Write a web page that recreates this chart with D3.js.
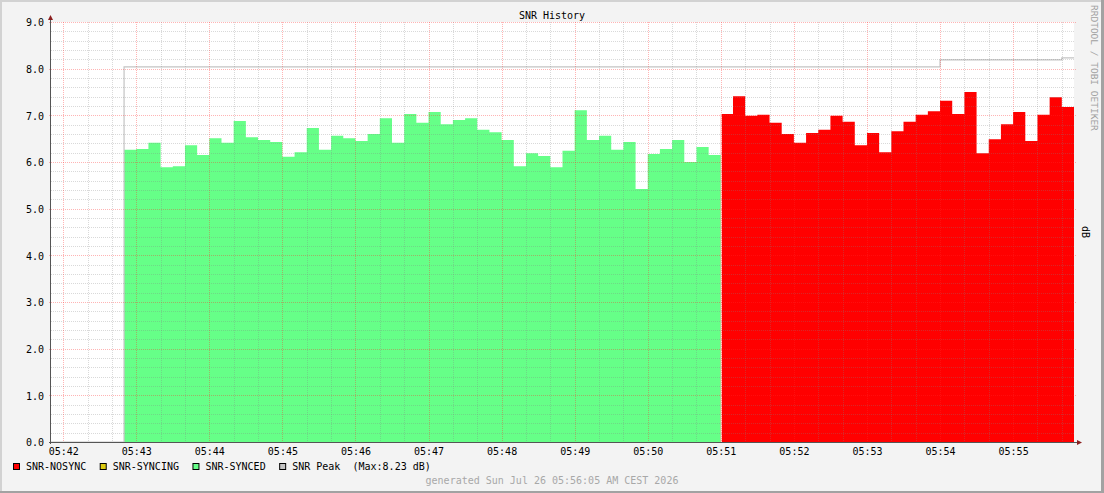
<!DOCTYPE html>
<html>
<head>
<meta charset="utf-8">
<script src="https://cdn.jsdelivr.net/npm/d3@7"></script>
<style>
  body { margin: 0; background: #f3f3f3; }
  text { font-family: "DejaVu Sans Mono", monospace; font-size: 10px; }
</style>
</head>
<body>
<div id="my_snr"></div>
<script>

// ======================= //
// DATA
// ======================= //

var chartTitle = "SNR History"
var unitLabel = "dB"
var footerText = "generated Sun Jul 26 05:56:05 AM CEST 2026"
var watermarkText = "RRDTOOL / TOBI OETIKER"

// time window of the graph and the rrd step
var xDomain = ["05:41:50", "05:55:50"]
var stepSeconds = 10

// SNR samples (dB), one per step
var syncedStart = "05:42:50"
var syncedValues = [6.26, 6.28, 6.41, 5.89, 5.91, 6.36, 6.15, 6.51, 6.41, 6.88,
                    6.53, 6.47, 6.43, 6.11, 6.21, 6.73, 6.26, 6.56, 6.51, 6.45,
                    6.60, 6.94, 6.41, 7.03, 6.84, 7.07, 6.81, 6.90, 6.94, 6.69,
                    6.64, 6.47, 5.91, 6.19, 6.13, 5.89, 6.24, 7.11, 6.47, 6.56,
                    6.26, 6.43, 5.42, 6.17, 6.28, 6.47, 6.00, 6.32, 6.15]
var nosyncStart = "05:51:00"
var nosyncValues = [7.03, 7.41, 6.99, 7.01, 6.84, 6.60, 6.41, 6.62, 6.69, 6.99,
                    6.86, 6.36, 6.62, 6.21, 6.66, 6.86, 7.01, 7.09, 7.31, 7.03,
                    7.50, 6.19, 6.49, 6.81, 7.07, 6.45, 7.01, 7.39, 7.18]

// peak SNR, value holds from each time on
var peakTimes = ["05:41:50", "05:42:50", "05:54:00", "05:55:40"]
var peakValues = [0, 8.04, 8.19, 8.23]
var peakMax = "(Max:8.23 dB)"

// ticks
var yTicks = [0, 1, 2, 3, 4, 5, 6, 7, 8, 9]
var xTickMinutes = ["05:42", "05:43", "05:44", "05:45", "05:46", "05:47", "05:48",
                    "05:49", "05:50", "05:51", "05:52", "05:53", "05:54", "05:55"]

// legend
var legendNames = ["SNR-NOSYNC", "SNR-SYNCING", "SNR-SYNCED", "SNR Peak"]

// colours
var colNosync = "#ff0000", colSyncing = "#dccb10", colSynced = "#66ff88", colPeak = "#c4c4c4"
var legendColors = [colNosync, colSyncing, colSynced, colPeak]
var colMinor = "rgba(128,128,128,0.3)", colMajor = "rgba(255,40,40,0.35)"


// ======================= //
// SVG AREAS
// ======================= //

var W = 1104, H = 493
var margin = {top: 22, right: 30, bottom: 51, left: 51},
    width = W - margin.left - margin.right,
    height = H - margin.top - margin.bottom;

var root = d3.select("#my_snr")
  .append("svg")
    .attr("width", W)
    .attr("height", H)
    .style("display", "block")

// background with 3d shade
root.append("rect").attr("width", W).attr("height", H).attr("fill", "#f3f3f3")
root.append("rect").attr("x", 0).attr("y", 0).attr("width", W).attr("height", 2).attr("fill", "#d2d2d2")
root.append("rect").attr("x", 0).attr("y", 0).attr("width", 2).attr("height", H).attr("fill", "#d2d2d2")
root.append("rect").attr("x", 0).attr("y", H - 2).attr("width", W).attr("height", 2).attr("fill", "#a2a2a2")
root.append("rect").attr("x", W - 3).attr("y", 0).attr("width", 3).attr("height", H).attr("fill", "#a2a2a2")

var svg = root.append("g")
    .attr("transform", "translate(" + margin.left + "," + margin.top + ")");

svg.append("rect")
  .attr("width", width)
  .attr("height", height)
  .attr("fill", "#ffffff")


// ======================= //
// SCALES
// ======================= //

// everything in UTC so no local time zone quirks move the grid
var parseT = d3.utcParse("%H:%M:%S")
var parseM = d3.utcParse("%H:%M")

var x = d3.scaleUtc()
  .domain(xDomain.map(parseT))
  .range([0, width])

var y = d3.scaleLinear()
  .domain([0, 9])
  .range([height, 0])

// turn a start time + values into step points (last one closes the step)
function stepSeries(start, values){
  var t0 = parseT(start)
  var pts = values.map(function(v, i){ return {t: d3.utcSecond.offset(t0, i * stepSeconds), v: v} })
  pts.push({t: d3.utcSecond.offset(t0, values.length * stepSeconds), v: values[values.length - 1]})
  return pts
}


// ======================= //
// AREAS AND PEAK LINE
// ======================= //

var area = d3.area()
  .curve(d3.curveStepAfter)
  .x(function(d){ return x(d.t) })
  .y0(y(0))
  .y1(function(d){ return y(d.v) })

svg.append("path")
  .datum(stepSeries(syncedStart, syncedValues))
  .attr("d", area)
  .attr("fill", colSynced)

svg.append("path")
  .datum(stepSeries(nosyncStart, nosyncValues))
  .attr("d", area)
  .attr("fill", colNosync)

// thin seam where the state changes
svg.append("line")
  .attr("x1", x(parseT(nosyncStart)) + 0.5).attr("x2", x(parseT(nosyncStart)) + 0.5)
  .attr("y1", y(nosyncValues[0])).attr("y2", height)
  .attr("stroke", "#ffffff").attr("stroke-width", 1)

var peakData = peakTimes.map(function(t, i){ return {t: parseT(t), v: peakValues[i]} })
peakData.push({t: parseT(xDomain[1]), v: peakValues[peakValues.length - 1]})

svg.append("path")
  .datum(peakData)
  .attr("d", d3.line().curve(d3.curveStepAfter)
    .x(function(d){ return x(d.t) })
    .y(function(d){ return y(d.v) }))
  .attr("fill", "none")
  .attr("stroke", colPeak)
  .attr("stroke-width", 1.2)


// ======================= //
// GRID (drawn over the data)
// ======================= //

var t0 = x.domain()[0], t1 = x.domain()[1]
var minorX = d3.utcSecond.every(20).range(t0, t1).filter(function(d){ return d.getUTCSeconds() != 0 })
var majorX = xTickMinutes.map(parseM)
var minorY = d3.range(1, 45).filter(function(i){ return i % 5 != 0 }).map(function(i){ return i / 5 })

function px(v){ return Math.round(v) + 0.5 }

var grid = svg.append("g")
  .style("shape-rendering", "crispEdges")
  .style("stroke-dasharray", "1,1")

grid.selectAll("minorV").data(minorX).enter().append("line")
  .attr("x1", function(d){ return px(x(d)) }).attr("x2", function(d){ return px(x(d)) })
  .attr("y1", 0).attr("y2", height)
  .attr("stroke", colMinor)

grid.selectAll("minorH").data(minorY).enter().append("line")
  .attr("x1", 0).attr("x2", width)
  .attr("y1", function(d){ return px(y(d)) }).attr("y2", function(d){ return px(y(d)) })
  .attr("stroke", colMinor)

grid.selectAll("majorV").data(majorX).enter().append("line")
  .attr("x1", function(d){ return px(x(d)) }).attr("x2", function(d){ return px(x(d)) })
  .attr("y1", 0).attr("y2", height + 2)
  .attr("stroke", colMajor)

grid.selectAll("majorH").data(yTicks.slice(1)).enter().append("line")
  .attr("x1", -2).attr("x2", width + 2)
  .attr("y1", function(d){ return px(y(d)) }).attr("y2", function(d){ return px(y(d)) })
  .attr("stroke", colMajor)


// ======================= //
// AXES
// ======================= //

var xAxis = svg.append("g")
  .attr("transform", "translate(0," + height + ")")
  .call(d3.axisBottom(x).tickValues(majorX).tickFormat(d3.utcFormat("%H:%M")).tickSize(0).tickPadding(6))
xAxis.select(".domain").remove()
xAxis.selectAll("text").style("font-family", "DejaVu Sans Mono").style("font-size", "10px").attr("fill", "#000")

var yAxis = svg.append("g")
  .call(d3.axisLeft(y).tickValues(yTicks).tickFormat(d3.format(".1f")).tickSize(0).tickPadding(7))
yAxis.select(".domain").remove()
yAxis.selectAll("text").style("font-family", "DejaVu Sans Mono").style("font-size", "10px").attr("fill", "#000").attr("dy", "0.37em")

// axis lines with arrows
svg.append("line").attr("x1", -0.5).attr("x2", -0.5).attr("y1", height + 2).attr("y2", -3)
  .attr("stroke", "#555").attr("stroke-width", 1)
svg.append("line").attr("x1", -2).attr("x2", width + 3).attr("y1", height + 0.5).attr("y2", height + 0.5)
  .attr("stroke", "#555").attr("stroke-width", 1)
svg.append("path").attr("d", "M-3,-2 L2,-2 L-0.5,-7 Z").attr("fill", "#8b1f1f")
svg.append("path").attr("d", "M" + (width + 3) + "," + (height - 2) + " L" + (width + 3) + "," + (height + 3) + " L" + (width + 8) + "," + (height + 0.5) + " Z").attr("fill", "#8b1f1f")


// ======================= //
// TEXTS
// ======================= //

root.append("text").attr("x", W / 2).attr("y", 19).attr("text-anchor", "middle").attr("fill", "#000").text(chartTitle)

root.append("text")
  .attr("transform", "translate(1085.5,232) rotate(90)")
  .attr("text-anchor", "middle").attr("dominant-baseline", "central")
  .attr("fill", "#000").text(unitLabel)

root.append("text")
  .attr("transform", "translate(1094.5,5) rotate(90)")
  .attr("dominant-baseline", "central")
  .style("font-size", "9.5px")
  .attr("fill", "#a0a0a0").text(watermarkText)

root.append("text").attr("x", W / 2).attr("y", 484).attr("text-anchor", "middle").attr("fill", "#a8a8a8").text(footerText)

// legend
var lx = 13.5
legendNames.forEach(function(name, i){
  root.append("rect").attr("x", lx).attr("y", 463.5).attr("width", 6).attr("height", 6)
    .attr("fill", legendColors[i]).attr("stroke", "#000").attr("stroke-width", 1)
  var t = root.append("text").attr("x", lx + 12.5).attr("y", 470).attr("fill", "#000").text(name)
  lx = lx + 12.5 + t.node().getComputedTextLength() + 14
})
root.append("text").attr("x", 352.5).attr("y", 470).attr("fill", "#000").text(peakMax)

</script>
</body>
</html>
